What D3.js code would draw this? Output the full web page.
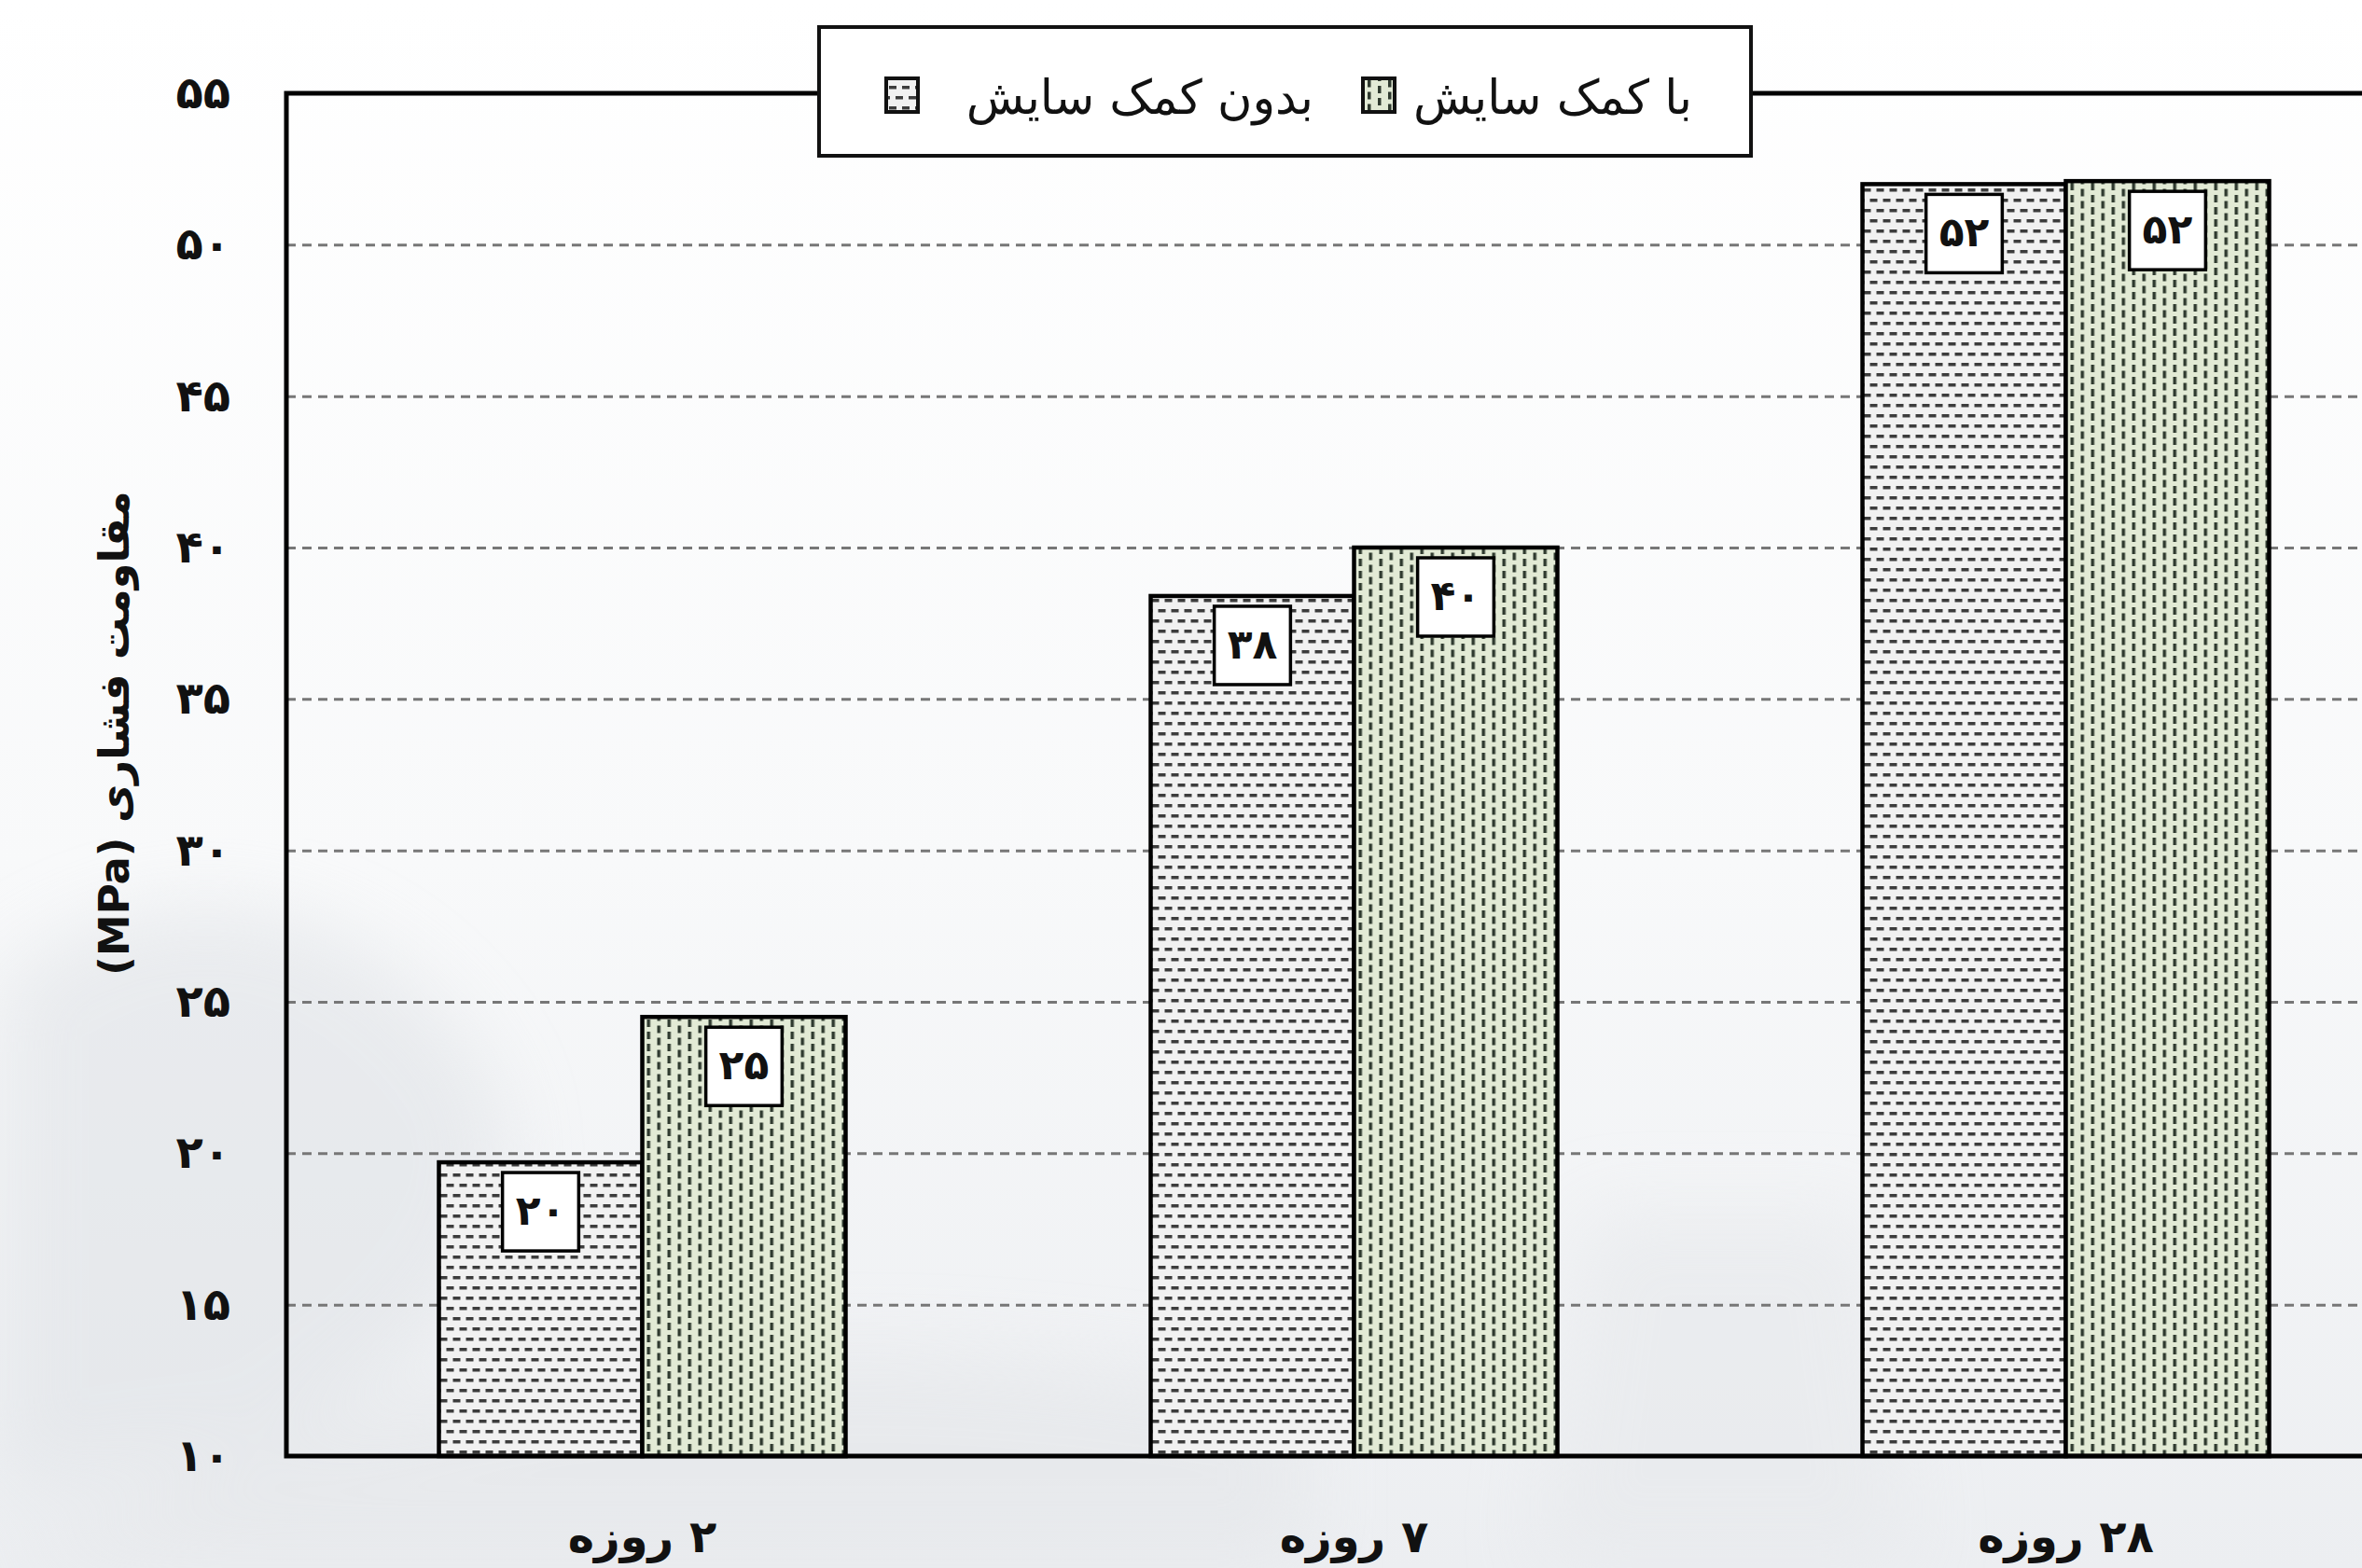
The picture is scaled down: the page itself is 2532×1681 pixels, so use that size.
<!DOCTYPE html>
<html>
<head>
<meta charset="utf-8">
<script src="https://cdn.jsdelivr.net/npm/d3@7"></script>
<style>
    body { margin: 0; background: #f6f7f8; }
    svg { display: block; font-family: "DejaVu Sans", sans-serif; }
</style>
</head>
<body>
<script>
"use strict";
// chart values
const groups = ["۲ روزه", "۷ روزه", "۲۸ روزه"];
const seriesNames = ["بدون کمک سایش", "با کمک سایش"];
const withoutAid = [19.7, 38.4, 52.0];
const withAid = [24.5, 40.0, 52.1];
const yTicks = [10, 15, 20, 25, 30, 35, 40, 45, 50, 55];
const yTitle = "مقاومت فشاری (MPa)";

(function(){
    let svgContainer = "";

    const measurements = {
        width: 2532,
        height: 1681,
        left: 307,
        top: 100,
        bottom: 1561,
        right: 2596
    }

    const faDigits = "۰۱۲۳۴۵۶۷۸۹";
    const toFa = (v) => String(v).replace(/\d/g, (d) => faDigits[d]);

    window.onload = function() {
        svgContainer = d3.select('body').append("svg")
            .attr('width', measurements.width)
            .attr('height', measurements.height);
        makeBackground();
        makePatterns();
        makeChart();
    }

    function makeBackground() {
        const defs = svgContainer.append("defs");
        const grad = defs.append("linearGradient").attr("id", "bg")
            .attr("x1", 0).attr("y1", 0).attr("x2", 0).attr("y2", 1);
        grad.append("stop").attr("offset", "0%").attr("stop-color", "#ffffff");
        grad.append("stop").attr("offset", "55%").attr("stop-color", "#f8f9fa");
        grad.append("stop").attr("offset", "100%").attr("stop-color", "#eceef1");
        defs.append("filter").attr("id", "soft")
            .append("feGaussianBlur").attr("stdDeviation", 40);

        svgContainer.append("rect")
            .attr("width", measurements.width)
            .attr("height", measurements.height)
            .attr("fill", "url(#bg)");

        // faint swooshes of the backdrop photo
        const sw = svgContainer.append("g").attr("filter", "url(#soft)").attr("opacity", 0.55);
        sw.append("path")
            .attr("d", "M0,1050 C200,900 420,980 520,1150 C600,1300 450,1500 250,1560 L0,1600 Z")
            .attr("fill", "#dfe2e6");
        sw.append("path")
            .attr("d", "M0,1681 C400,1450 900,1400 1400,1500 L1400,1681 Z")
            .attr("fill", "#e3e5e8");
        sw.append("path")
            .attr("d", "M1700,1300 L2000,1300 L2050,1681 L1650,1681 Z")
            .attr("fill", "#e6e8eb");
    }

    function makePatterns() {
        const defs = svgContainer.select("defs");

        // dashed horizontal (without aid)
        const ph = defs.append("pattern").attr("id", "hdash")
            .attr("patternUnits", "userSpaceOnUse")
            .attr("x", 0).attr("y", 0)
            .attr("width", 14).attr("height", 22);
        ph.append("rect").attr("width", 14).attr("height", 22).attr("fill", "#f1f1f1");
        ph.append("rect").attr("x", 1).attr("y", 4).attr("width", 8).attr("height", 3.5).attr("fill", "#3c3c3c");
        ph.append("rect").attr("x", 8).attr("y", 15).attr("width", 6).attr("height", 3.5).attr("fill", "#3c3c3c");
        ph.append("rect").attr("x", 0).attr("y", 15).attr("width", 2).attr("height", 3.5).attr("fill", "#3c3c3c");

        // dashed vertical (with aid)
        const pv = defs.append("pattern").attr("id", "vdash")
            .attr("patternUnits", "userSpaceOnUse")
            .attr("x", 0).attr("y", 0)
            .attr("width", 22).attr("height", 13);
        pv.append("rect").attr("width", 22).attr("height", 13).attr("fill", "#e2ead5");
        pv.append("rect").attr("x", 3).attr("y", 1).attr("width", 3.5).attr("height", 8).attr("fill", "#2f3a2f");
        pv.append("rect").attr("x", 14).attr("y", 7.5).attr("width", 3.5).attr("height", 5.5).attr("fill", "#2f3a2f");
        pv.append("rect").attr("x", 14).attr("y", 0).attr("width", 3.5).attr("height", 2.5).attr("fill", "#2f3a2f");
    }

    function makeChart() {
        const data = groups.map((g, i) => ({ group: g, values: [withoutAid[i], withAid[i]] }));
        const fills = ["url(#hdash)", "url(#vdash)"];

        let scaleX = d3.scaleBand()
            .domain(groups)
            .range([measurements.left, measurements.right])
            .paddingInner(0.4286)
            .paddingOuter(0.2143);

        let scaleSub = d3.scaleBand()
            .domain([0, 1])
            .range([0, scaleX.bandwidth()]);

        let scaleY = d3.scaleLinear()
            .domain([10, 55])
            .range([measurements.bottom, measurements.top]);

        drawAxes(scaleX, scaleY);
        plotBars(data, fills, scaleX, scaleSub, scaleY);
        makeFrame(scaleY);
        makeLegend(fills);
        makeLabels(scaleX);
    }

    function drawAxes(scaleX, scaleY) {
        // dashed gridlines
        let grid = d3.axisLeft()
            .scale(scaleY)
            .tickValues(yTicks.filter((t) => t > 10 && t < 55))
            .tickSize(-(measurements.right - measurements.left))
            .tickFormat("");

        let g = svgContainer.append('g')
            .attr('transform', 'translate(' + measurements.left + ',0)')
            .call(grid);
        g.select(".domain").remove();
        g.selectAll("line")
            .attr("stroke", "#777")
            .attr("stroke-width", 3)
            .attr("stroke-dasharray", "10,7");

        let yAxis = d3.axisLeft()
            .scale(scaleY)
            .tickValues(yTicks)
            .tickSize(0)
            .tickPadding(60)
            .tickFormat(toFa);

        let ya = svgContainer.append('g')
            .attr('transform', 'translate(' + measurements.left + ',0)')
            .call(yAxis);
        ya.select(".domain").remove();
        ya.selectAll("text")
            .attr("font-family", "DejaVu Sans")
            .attr("font-weight", "bold")
            .attr("font-size", 48)
            .attr("fill", "#111");
    }

    function plotBars(data, fills, scaleX, scaleSub, scaleY) {
        const groupsG = svgContainer.selectAll(".grp")
            .data(data)
            .enter()
            .append("g")
            .attr("class", "grp")
            .attr("transform", (d) => "translate(" + scaleX(d.group) + ",0)");

        groupsG.selectAll("rect.bar")
            .data((d) => d.values)
            .enter()
            .append("rect")
            .attr("class", "bar")
            .attr("x", (d, i) => scaleSub(i))
            .attr("y", (d) => scaleY(d))
            .attr("width", scaleSub.bandwidth())
            .attr("height", (d) => measurements.bottom - scaleY(d))
            .attr("fill", (d, i) => fills[i])
            .attr("stroke", "#000")
            .attr("stroke-width", 4.5);

        // value boxes
        groupsG.selectAll("g.val")
            .data((d) => d.values)
            .enter()
            .append("g")
            .attr("class", "val")
            .each(function(d, i) {
                const cx = scaleSub(i) + scaleSub.bandwidth() / 2;
                const top = scaleY(d) + 11;
                const box = d3.select(this).append("rect");
                const txt = d3.select(this).append("text")
                    .attr("x", cx)
                    .attr("y", top + 56)
                    .attr("text-anchor", "middle")
                    .attr("font-family", "DejaVu Sans")
                    .attr("font-weight", "bold")
                    .attr("font-size", 44)
                    .attr("fill", "#111")
                    .text(toFa(Math.round(d)));
                const w = txt.node().getComputedTextLength() + 28;
                box.attr("x", cx - w / 2)
                    .attr("y", top)
                    .attr("width", w)
                    .attr("height", 84)
                    .attr("fill", "#fff")
                    .attr("stroke", "#000")
                    .attr("stroke-width", 3.5);
            });
    }

    function makeFrame(scaleY) {
        const frame = svgContainer.append("g")
            .attr("stroke", "#000")
            .attr("stroke-width", 5)
            .attr("fill", "none");
        frame.append("path")
            .attr("d", "M" + measurements.right + "," + scaleY(55) +
                " H" + measurements.left +
                " V" + scaleY(10) +
                " H" + measurements.right);
    }

    function makeLegend(fills) {
        const lg = svgContainer.append("g").attr("class", "legend");
        lg.append("rect")
            .attr("x", 878).attr("y", 29)
            .attr("width", 999).attr("height", 138)
            .attr("fill", "#fff")
            .attr("stroke", "#111")
            .attr("stroke-width", 4);

        const items = [
            { name: seriesNames[1], fill: fills[1], textRight: 1814, swatch: 1461 },
            { name: seriesNames[0], fill: fills[0], textRight: 1408, swatch: 950 }
        ];
        items.forEach((it) => {
            lg.append("text")
                .attr("x", it.textRight)
                .attr("y", 122)
                .attr("direction", "rtl")
                .attr("text-anchor", "start")
                .attr("font-family", "DejaVu Sans")
                .attr("font-size", 51)
                .attr("fill", "#111")
                .text(it.name);
            lg.append("rect")
                .attr("x", it.swatch).attr("y", 84)
                .attr("width", 34).attr("height", 36)
                .attr("fill", it.fill)
                .attr("stroke", "#111")
                .attr("stroke-width", 4);
        });
    }

    function makeLabels(scaleX) {
        svgContainer.selectAll("text.xlabel")
            .data(groups)
            .enter()
            .append("text")
            .attr("class", "xlabel")
            .attr("x", (d) => scaleX(d) + scaleX.bandwidth() / 2)
            .attr("y", 1664)
            .attr("direction", "rtl")
            .attr("text-anchor", "middle")
            .attr("font-family", "DejaVu Sans")
            .attr("font-weight", "bold")
            .attr("font-size", 48)
            .attr("fill", "#111")
            .text((d) => d);

        svgContainer.append('text')
            .attr('transform', 'translate(138, 786)rotate(-90)')
            .attr("direction", "rtl")
            .attr("text-anchor", "middle")
            .attr("font-family", "DejaVu Sans")
            .attr("font-weight", "bold")
            .style('font-size', '45px')
            .attr("fill", "#111")
            .text(yTitle);
    }
})()
</script>
</body>
</html>
